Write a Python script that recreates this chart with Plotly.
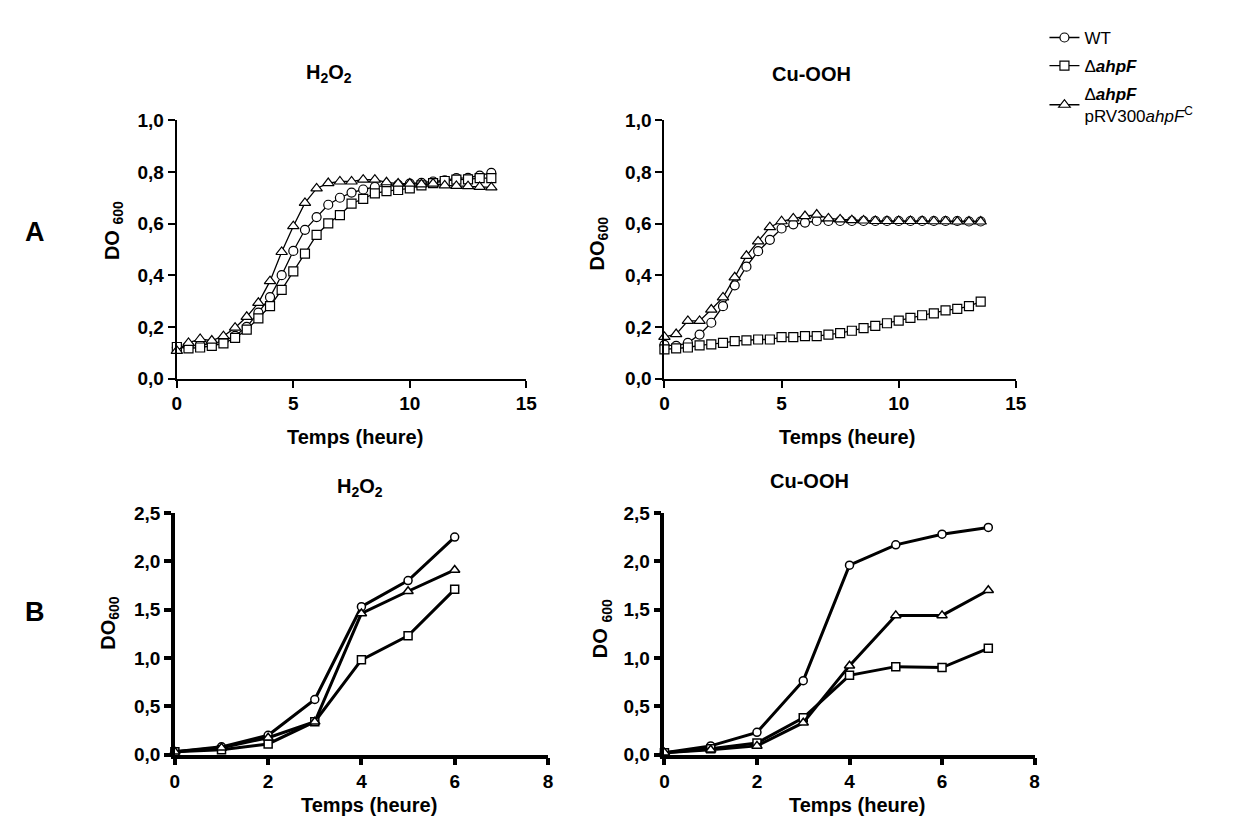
import plotly.graph_objects as go

W, H = 1234, 818
FONT = "Liberation Sans"

# ---------------- data ----------------
t_top = [0, 0.5, 1, 1.5, 2, 2.5, 3, 3.5, 4, 4.5, 5, 5.5, 6, 6.5, 7, 7.5,
         8, 8.5, 9, 9.5, 10, 10.5, 11, 11.5, 12, 12.5, 13, 13.5]

h2o2_wt = [0.12, 0.125, 0.13, 0.135, 0.145, 0.165, 0.20, 0.255, 0.315, 0.40, 0.494, 0.576, 0.625, 0.673,
           0.70, 0.72, 0.732, 0.742, 0.748, 0.75, 0.755, 0.758, 0.763, 0.767, 0.776, 0.777, 0.786, 0.796]
h2o2_ahpf = [0.122, 0.117, 0.12, 0.126, 0.136, 0.157, 0.189, 0.233, 0.28, 0.343, 0.415, 0.484, 0.556, 0.601,
             0.633, 0.677, 0.696, 0.717, 0.726, 0.73, 0.736, 0.748, 0.757, 0.765, 0.77, 0.771, 0.776, 0.776]
h2o2_comp = [0.107, 0.138, 0.153, 0.147, 0.164, 0.197, 0.239, 0.293, 0.377, 0.49, 0.59, 0.68, 0.736, 0.757,
             0.763, 0.763, 0.77, 0.77, 0.76, 0.755, 0.755, 0.752, 0.755, 0.748, 0.746, 0.745, 0.742, 0.74]

cu_wt = [0.13, 0.126, 0.138, 0.17, 0.216, 0.28, 0.361, 0.433, 0.493, 0.537, 0.581, 0.597, 0.604, 0.61,
         0.61, 0.61, 0.61, 0.61, 0.61, 0.61, 0.61, 0.61, 0.61, 0.61, 0.61, 0.61, 0.608, 0.608]
cu_ahpf = [0.113, 0.117, 0.12, 0.128, 0.132, 0.138, 0.145, 0.148, 0.151, 0.151, 0.16, 0.16, 0.164, 0.164,
           0.17, 0.176, 0.185, 0.195, 0.204, 0.214, 0.224, 0.235, 0.245, 0.252, 0.264, 0.27, 0.28, 0.298]
cu_comp = [0.161, 0.172, 0.223, 0.223, 0.267, 0.314, 0.392, 0.475, 0.531, 0.586, 0.609, 0.62, 0.629, 0.635,
           0.62, 0.616, 0.613, 0.612, 0.61, 0.61, 0.61, 0.61, 0.61, 0.609, 0.609, 0.608, 0.608, 0.608]

t_b_h2o2 = [0, 1, 2, 3, 4, 5, 6]
b_h2o2_wt = [0.03, 0.08, 0.2, 0.57, 1.53, 1.8, 2.25]
b_h2o2_ahpf = [0.03, 0.05, 0.11, 0.34, 0.98, 1.23, 1.71]
b_h2o2_comp = [0.03, 0.07, 0.175, 0.34, 1.46, 1.69, 1.91]

t_b_cu = [0, 1, 2, 3, 4, 5, 6, 7]
b_cu_wt = [0.02, 0.09, 0.23, 0.765, 1.96, 2.17, 2.28, 2.35]
b_cu_ahpf = [0.02, 0.06, 0.12, 0.38, 0.82, 0.91, 0.9, 1.1]
b_cu_comp = [0.02, 0.05, 0.09, 0.33, 0.92, 1.44, 1.44, 1.7]

names = ["WT", "\u0394<b><i>ahpF</i></b>", "\u0394<b><i>ahpF</i></b><br>pRV300<i>ahpF</i><sup>C</sup>"]
symbols = ["circle", "square", "triangle-up"]

xt_top = [0, 5, 10, 15]
yt_top = [0.0, 0.2, 0.4, 0.6, 0.8, 1.0]
xt_bot = [0, 2, 4, 6, 8]
yt_bot = [0.0, 0.5, 1.0, 1.5, 2.0, 2.5]


def px(x):
    return x / W


def py(y):
    return 1 - y / H


fig = go.Figure()

panels = [
    ("x", "y", t_top, [h2o2_wt, h2o2_ahpf, h2o2_comp], True),
    ("x2", "y2", t_top, [cu_wt, cu_ahpf, cu_comp], True),
    ("x3", "y3", t_b_h2o2, [b_h2o2_wt, b_h2o2_ahpf, b_h2o2_comp], False),
    ("x4", "y4", t_b_cu, [b_cu_wt, b_cu_ahpf, b_cu_comp], False),
]

for pi, (xa, ya, t, series, top) in enumerate(panels):
    for si, vals in enumerate(series):
        if top:
            msize = 9 if si != 2 else 10
            lw, mlw = 1.3, 1.2
        else:
            msize = 8 if si != 2 else 9
            lw, mlw = 3, 1.5
        fig.add_trace(go.Scatter(
            x=t, y=vals, xaxis=xa, yaxis=ya, mode="lines+markers",
            name=names[si], showlegend=(pi == 0), legendgroup=str(si),
            line=dict(color="black", width=lw),
            marker=dict(symbol=symbols[si], size=msize, color="white",
                        line=dict(color="black", width=mlw)),
            cliponaxis=False,
        ))

tickfont = dict(family=FONT, size=19, color="black", weight="bold")


def xax(dom, rng, tv, lw, anchor):
    return dict(domain=dom, range=rng, tickvals=tv, showline=True, linewidth=lw, linecolor="black",
                ticks="outside", ticklen=7, tickwidth=lw, tickcolor="black", showgrid=False,
                zeroline=False, tickfont=tickfont, anchor=anchor, fixedrange=True)


def yax(dom, rng, tv, lw, anchor):
    return dict(domain=dom, range=rng, tickvals=tv, tickformat=".1f", showline=True, linewidth=lw,
                linecolor="black", ticks="outside", ticklen=7, tickwidth=lw, tickcolor="black",
                showgrid=False, zeroline=False, tickfont=tickfont, anchor=anchor, fixedrange=True)


top_y = [py(370), py(105)]
bot_y = [py(756), py(508)]

fig.update_layout(
    width=W, height=H, margin=dict(l=0, r=0, t=0, b=0),
    paper_bgcolor="white", plot_bgcolor="white",
    separators=", ",
    font=dict(family=FONT, color="black"),
    xaxis=xax([px(166), px(520)], [0, 15], xt_top, 2.2, "y"),
    yaxis=yax(top_y, [0, 1.0], yt_top, 2.2, "x"),
    xaxis2=xax([px(660), px(1016)], [0, 15], xt_top, 2.2, "y2"),
    yaxis2=yax(top_y, [0, 1.0], yt_top, 2.2, "x2"),
    xaxis3=xax([px(164), px(542)], [0, 8], xt_bot, 3.5, "y3"),
    yaxis3=yax(bot_y, [0, 2.5], yt_bot, 3.5, "x3"),
    xaxis4=xax([px(660), px(1035)], [0, 8], xt_bot, 3.5, "y4"),
    yaxis4=yax(bot_y, [0, 2.5], yt_bot, 3.5, "x4"),
    legend=dict(x=px(1045), y=py(2), xanchor="left", yanchor="top",
                font=dict(family=FONT, size=17, color="black"),
                tracegroupgap=3, itemwidth=30, bgcolor="rgba(0,0,0,0)"),
    showlegend=True,
)

annots = []


def txt(x, y, s, size=20, angle=0, bold=True):
    annots.append(dict(x=px(x), y=py(y), xref="paper", yref="paper", text=s, showarrow=False,
                       textangle=angle, xanchor="center", yanchor="middle",
                       font=dict(family=FONT, size=size, color="black",
                                 weight="bold" if bold else "normal")))


# panel titles
txt(320, 57, "H<sub>2</sub>O<sub>2</sub>")
txt(809, 57, "Cu-OOH")
txt(352, 482, "H<sub>2</sub>O<sub>2</sub>")
txt(807, 475, "Cu-OOH")
# x titles
txt(346, 430, "Temps (heure)")
txt(845, 430, "Temps (heure)")
txt(361, 808, "Temps (heure)")
txt(855, 808, "Temps (heure)")
# y titles
txt(102, 218, "DO <sub>600</sub>", angle=-90)
txt(593, 231, "DO<sub>600</sub>", angle=-90)
txt(97, 621, "DO<sub>600</sub>", angle=-90)
txt(597, 627, "DO <sub>600</sub>", angle=-90)
# panel letters
txt(22, 220, "A", size=27)
txt(22, 610, "B", size=27)

fig.update_layout(annotations=annots)

fig.write_html("out.html")
